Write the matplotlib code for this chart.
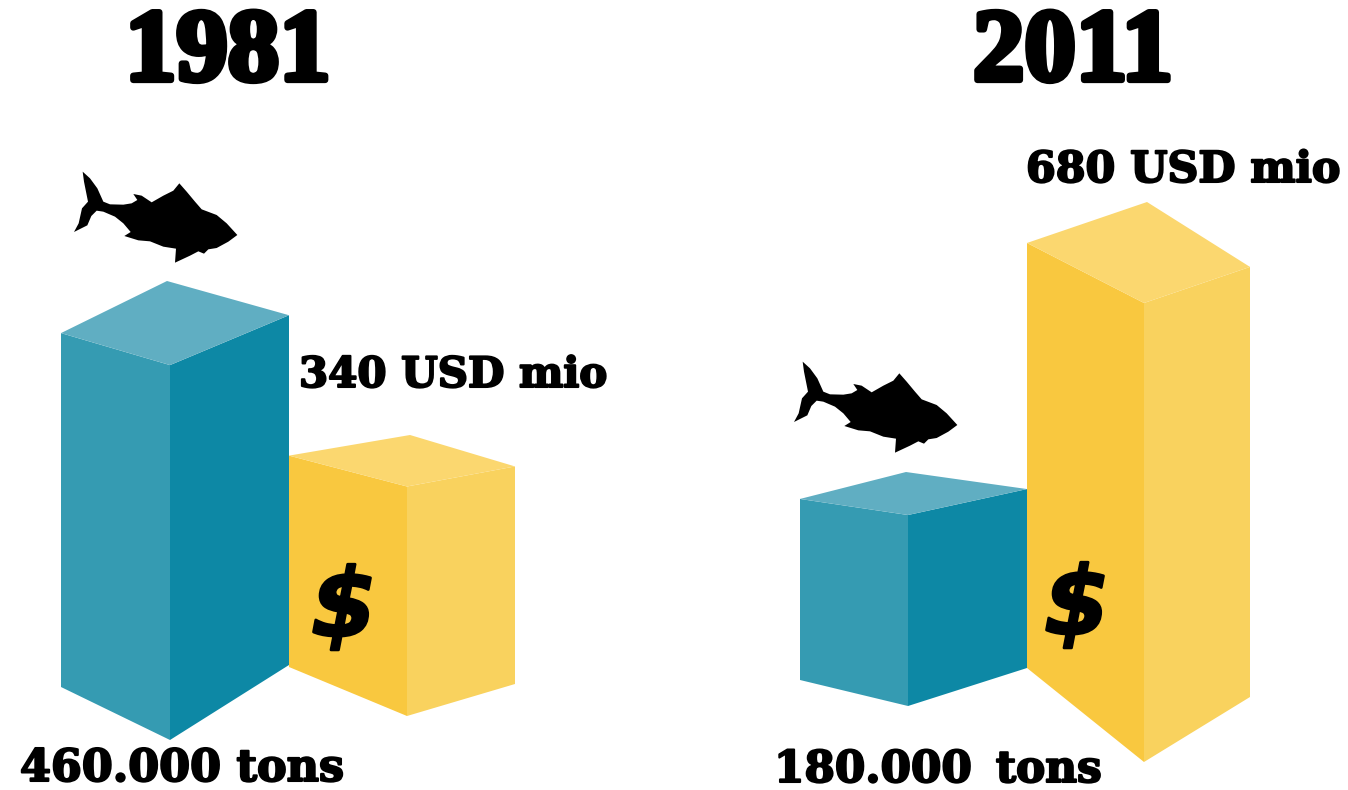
import matplotlib
matplotlib.use('Agg')
import matplotlib.pyplot as plt
import matplotlib.patheffects as pe
from matplotlib.patches import Polygon

years = ['1981', '2011']
tons_k = [460, 180]
usd_mio = [340, 680]
tons_labels = ['460.000 tons', '180.000 \u2009tons']
usd_labels = ['340 USD mio', '680 USD mio']

TEAL = ['#359BB2', '#0D88A5', '#60AEC2']
YELLOW = ['#F9C83F', '#F9D25E', '#FBD76F']

# pixels per unit, the picture is not to one scale
tons_scale = [0.815, 1.061]
usd_scale = 0.675

# front x, front base y, left corner, right corner, back corner, left/right height ratio
tons_layout = [
    dict(fx=170, fy=740, lx=61, ly=687, rx=289, ry=665, bx=167, by=281, lk=0.944, rk=0.933),
    dict(fx=908, fy=706, lx=800, ly=680, rx=1027, ry=668, bx=906, by=472, lk=0.948, rk=0.937),
]
usd_layout = [
    dict(fx=407, fy=716, lx=289, ly=667, rx=515, ry=684, bx=410, by=435, lk=0.921, rk=0.948),
    dict(fx=1144, fy=762, lx=1027, ly=668, rx=1250, ry=697, bx=1147, by=202, lk=0.926, rk=0.937),
]

# fish outline
fish = [(68, 35), (90, 55), (112, 85), (130, 125), (150, 133), (190, 134), (215, 130), (232, 120),
        (220, 102), (245, 107), (275, 127), (310, 107), (340, 92), (358, 70), (380, 95), (405, 125),
        (425, 148), (470, 165), (500, 190), (532, 225), (505, 245), (470, 264), (445, 268), (432, 281),
        (415, 274), (390, 287), (345, 308), (348, 266), (310, 260), (270, 244), (235, 241), (193, 228),
        (212, 216), (190, 190), (165, 170), (130, 155), (110, 152), (94, 168), (82, 196), (42, 216),
        (56, 190), (66, 145), (84, 125), (78, 95), (72, 65)]


def iso_bar(ax, h, colors, fx, fy, lx, ly, rx, ry, bx, by, lk, rk):
    top = fy - h
    ltop = ly - h * lk
    rtop = ry - h * rk
    ax.add_patch(Polygon([(lx, ly), (fx, fy), (fx, top), (lx, ltop)], fc=colors[0], lw=0))
    ax.add_patch(Polygon([(fx, fy), (rx, ry), (rx, rtop), (fx, top)], fc=colors[1], lw=0))
    ax.add_patch(Polygon([(lx, ltop), (fx, top), (rx, rtop), (bx, by)], fc=colors[2], lw=0))


def draw_fish(ax, x0, y0):
    ax.add_patch(Polygon([(x0 + a / 3, y0 + b / 3) for a, b in fish], fc='black', lw=0))


def label(ax, x, y, s, size, family='DejaVu Serif', stroke=1.0, **kw):
    t = ax.text(x, y, s, fontsize=size, family=family, fontweight='bold', color='black',
                ha='left', va='baseline', **kw)
    t.set_path_effects([pe.withStroke(linewidth=stroke, foreground='black')])
    return t


fig = plt.figure(figsize=(13.48, 7.9), dpi=100)
ax = fig.add_axes([0, 0, 1, 1])
ax.set_xlim(0, 1348)
ax.set_ylim(790, 0)
ax.axis('off')

for i in range(2):
    iso_bar(ax, usd_mio[i] * usd_scale, YELLOW, **usd_layout[i])
    iso_bar(ax, tons_k[i] * tons_scale[i], TEAL, **tons_layout[i])

draw_fish(ax, 60, 160)
draw_fish(ax, 780, 350)

label(ax, 125, 80, years[0], 74, family='Liberation Serif', stroke=4.5)
label(ax, 973, 80, years[1], 74, family='Liberation Serif', stroke=4.5)
label(ax, 20, 781, tons_labels[0], 32, stroke=1.5)
label(ax, 774, 782, tons_labels[1], 31.5, stroke=1.5)
label(ax, 299, 387, usd_labels[0], 30.2, stroke=1.5)
label(ax, 1026, 182, usd_labels[1], 30.8, stroke=1.5)
label(ax, 311, 636, '\\$', 68, family='DejaVu Sans', stroke=2, style='oblique')
label(ax, 1044, 634, '\\$', 68, family='DejaVu Sans', stroke=2, style='oblique')

fig.savefig('out.png', dpi=100)
